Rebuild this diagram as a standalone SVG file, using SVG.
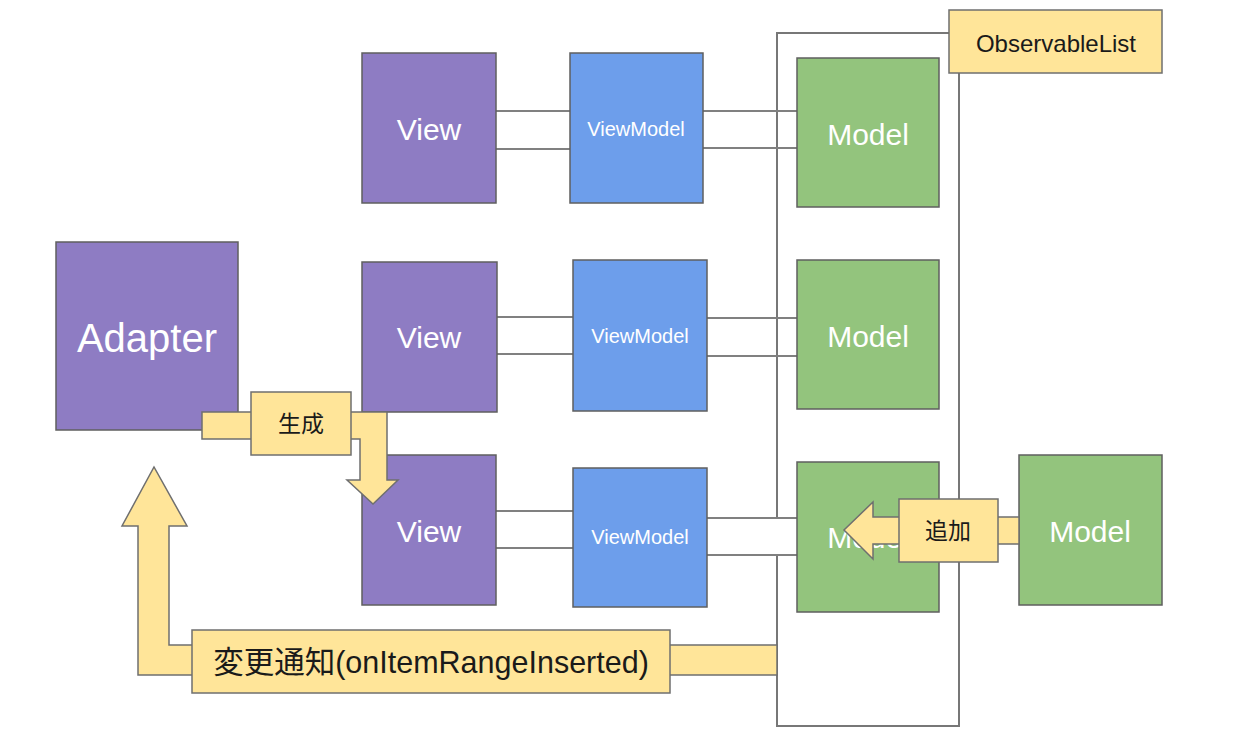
<svg xmlns="http://www.w3.org/2000/svg" width="1244" height="756" viewBox="0 0 1244 756">
<style>
.bg{fill:#ffffff}
.purple{fill:#8e7cc3;stroke:#5f5f5f;stroke-width:1.5}
.blue{fill:#6d9eeb;stroke:#5f5f5f;stroke-width:1.5}
.green{fill:#93c47d;stroke:#5f5f5f;stroke-width:1.5}
.yellow{fill:#ffe599;stroke:#6f6f6f;stroke-width:1.5}
.cont{fill:none;stroke:#777777;stroke-width:2}
.link{stroke:#808080;stroke-width:2;fill:none}
.wt{fill:#ffffff;font-family:"Liberation Sans",Arial,sans-serif;text-anchor:middle;dominant-baseline:central}
.bt{fill:#1a1a1a;font-family:"Liberation Sans",Arial,"Noto Sans CJK JP",sans-serif;text-anchor:middle;dominant-baseline:central}
</style>
<rect class="bg" x="0" y="0" width="1244" height="756"/>

<g id="observablelist-container">
<rect class="cont" x="777" y="33" width="182" height="693"/>
</g>

<g id="connectors">
<line class="link" x1="496" y1="111" x2="570" y2="111"/>
<line class="link" x1="496" y1="149" x2="570" y2="149"/>
<line class="link" x1="703" y1="111" x2="797" y2="111"/>
<line class="link" x1="703" y1="148" x2="797" y2="148"/>
<line class="link" x1="497" y1="317" x2="573" y2="317"/>
<line class="link" x1="497" y1="354" x2="573" y2="354"/>
<line class="link" x1="707" y1="318" x2="797" y2="318"/>
<line class="link" x1="707" y1="356" x2="797" y2="356"/>
<line class="link" x1="496" y1="511" x2="573" y2="511"/>
<line class="link" x1="496" y1="548" x2="573" y2="548"/>
<rect x="707" y="519" width="90" height="35" fill="#ffffff"/>
<line class="link" x1="707" y1="518" x2="797" y2="518"/>
<line class="link" x1="707" y1="555" x2="797" y2="555"/>
</g>

<g id="adapter">
<rect class="purple" x="56" y="242" width="182" height="188"/>
<text class="wt" x="147" y="338" font-size="40">Adapter</text>
</g>

<g id="view1">
<rect class="purple" x="362" y="53" width="134" height="150"/>
<text class="wt" x="429" y="129" font-size="30">View</text>
</g>
<g id="view2">
<rect class="purple" x="362" y="262" width="135" height="150"/>
<text class="wt" x="429" y="337" font-size="30">View</text>
</g>
<g id="view3">
<rect class="purple" x="362" y="455" width="134" height="150"/>
<text class="wt" x="429" y="531" font-size="30">View</text>
</g>

<g id="viewmodel1">
<rect class="blue" x="570" y="53" width="133" height="150"/>
<text class="wt" x="636" y="129" font-size="20">ViewModel</text>
</g>
<g id="viewmodel2">
<rect class="blue" x="573" y="260" width="134" height="151"/>
<text class="wt" x="640" y="336" font-size="20">ViewModel</text>
</g>
<g id="viewmodel3">
<rect class="blue" x="573" y="468" width="134" height="139"/>
<text class="wt" x="640" y="537" font-size="20">ViewModel</text>
</g>

<g id="model1">
<rect class="green" x="797" y="58" width="142" height="149"/>
<text class="wt" x="868" y="134" font-size="30">Model</text>
</g>
<g id="model2">
<rect class="green" x="797" y="260" width="142" height="149"/>
<text class="wt" x="868" y="336" font-size="30">Model</text>
</g>
<g id="model3">
<rect class="green" x="797" y="462" width="142" height="150"/>
<text class="wt" x="868" y="537" font-size="30">Model</text>
</g>
<g id="model-new">
<rect class="green" x="1019" y="455" width="143" height="150"/>
<text class="wt" x="1090" y="531" font-size="30">Model</text>
</g>

<g id="observablelist-label">
<rect class="yellow" x="949" y="10" width="213" height="63"/>
<text class="bt" x="1056" y="43" font-size="24">ObservableList</text>
</g>

<g id="arrow-generate">
<polygon class="yellow" points="202,412 387,412 387,480 398,480 373,504 347,480 360,480 360,439 202,439"/>
<rect class="yellow" x="251" y="392" width="100" height="63"/>
<text class="bt" x="301" y="424" font-size="23">生成</text>
</g>

<g id="arrow-add">
<polygon class="yellow" points="1019,517 873,517 873,502 844,530 873,559 873,544 1019,544"/>
<rect class="yellow" x="899" y="499" width="99" height="63"/>
<text class="bt" x="948" y="531" font-size="23">追加</text>
</g>

<g id="arrow-notify">
<polygon class="yellow" points="777,645 169,645 169,526 187,526 154,467 122,526 138,526 138,675 777,675"/>
<rect class="yellow" x="192" y="630" width="478" height="63"/>
<text class="bt" x="431" y="662" font-size="30.5">変更通知(onItemRangeInserted)</text>
</g>
</svg>
